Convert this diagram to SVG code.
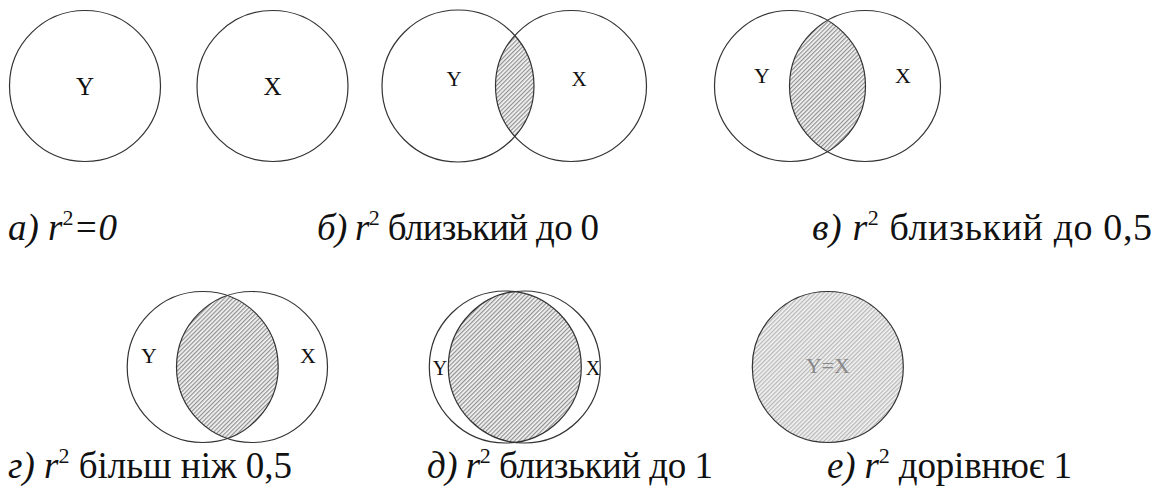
<svg xmlns="http://www.w3.org/2000/svg" width="1165" height="486" viewBox="0 0 1165 486">
<style>
.c{fill:none;stroke:#333;stroke-width:1.2}
.h{fill:url(#hatch);stroke:none}
.t{fill:#111;text-anchor:middle}
.lbl{fill:#111}
.it{font-style:italic}
</style>
<defs>
<pattern id="hatch" width="3" height="3" patternUnits="userSpaceOnUse" patternTransform="rotate(45)">
<rect width="3" height="3" fill="#f4f4f4"/>
<rect width="1.2" height="3" fill="#909090"/>
</pattern>
<pattern id="hatchL" width="3" height="3" patternUnits="userSpaceOnUse" patternTransform="rotate(45)">
<rect width="3" height="3" fill="#f4f4f4"/>
<rect width="1.3" height="3" fill="#b8b8b8"/>
</pattern>
<clipPath id="clipB"><circle cx="458" cy="86" r="76"/></clipPath>
<clipPath id="clipV"><circle cx="790" cy="86" r="75.5"/></clipPath>
<clipPath id="clipG"><circle cx="202.7" cy="367" r="75.5"/></clipPath>
<clipPath id="clipD"><circle cx="505.3" cy="367" r="76"/></clipPath>
</defs>

<g id="a">
<circle class="c" cx="85" cy="86" r="75.5"/>
<text class="t" x="85" y="95" font-family="Liberation Serif, serif" font-size="25">Y</text>
<circle class="c" cx="272.5" cy="86" r="75.5"/>
<text class="t" x="272.5" y="95" font-family="Liberation Serif, serif" font-size="25">X</text>
<text class="lbl" x="8" y="240" font-family="Liberation Serif, serif" font-size="37"><tspan class="it">а) r</tspan><tspan font-size="22" dy="-15">2</tspan><tspan class="it" dy="15">=0</tspan></text>
</g>

<g id="b">
<circle class="h" cx="571" cy="86" r="75.5" clip-path="url(#clipB)"/>
<circle class="c" cx="458" cy="86" r="76"/>
<circle class="c" cx="571" cy="86" r="75.5"/>
<text class="t" x="454" y="86" font-family="Liberation Serif, serif" font-size="21">Y</text>
<text class="t" x="579" y="86" font-family="Liberation Serif, serif" font-size="21">X</text>
<text class="lbl" x="317" y="240" font-family="Liberation Serif, serif" font-size="37" textLength="282" lengthAdjust="spacing"><tspan class="it">б) r</tspan><tspan font-size="22" dy="-15">2</tspan><tspan dy="15"> близький до 0</tspan></text>
</g>

<g id="v">
<circle class="h" cx="865" cy="86" r="75.5" clip-path="url(#clipV)"/>
<circle class="c" cx="790" cy="86" r="75.5"/>
<circle class="c" cx="865" cy="86" r="75.5"/>
<text class="t" x="762" y="83" font-family="Liberation Serif, serif" font-size="22">Y</text>
<text class="t" x="903" y="83" font-family="Liberation Serif, serif" font-size="22">X</text>
<text class="lbl" x="812" y="240" font-family="Liberation Serif, serif" font-size="38" textLength="340" lengthAdjust="spacing"><tspan class="it">в) r</tspan><tspan font-size="22" dy="-15">2</tspan><tspan dy="15"> близький до 0,5</tspan></text>
</g>

<g id="g">
<circle class="h" cx="252" cy="367" r="75.5" clip-path="url(#clipG)"/>
<circle class="c" cx="202.7" cy="367" r="75.5"/>
<circle class="c" cx="252" cy="367" r="75.5"/>
<text class="t" x="149" y="363" font-family="Liberation Serif, serif" font-size="22">Y</text>
<text class="t" x="308" y="363" font-family="Liberation Serif, serif" font-size="22">X</text>
<text class="lbl" x="8" y="478" font-family="Liberation Serif, serif" font-size="37" textLength="284" lengthAdjust="spacing"><tspan class="it">г) r</tspan><tspan font-size="22" dy="-15">2</tspan><tspan dy="15"> більш ніж 0,5</tspan></text>
</g>

<g id="d">
<circle class="h" cx="524.3" cy="367" r="76" clip-path="url(#clipD)"/>
<circle class="c" cx="505.3" cy="367" r="76"/>
<circle class="c" cx="524.3" cy="367" r="76"/>
<text class="t" x="440" y="375" font-family="Liberation Serif, serif" font-size="20">Y</text>
<text class="t" x="593" y="375" font-family="Liberation Serif, serif" font-size="20">X</text>
<text class="lbl" x="427" y="478" font-family="Liberation Serif, serif" font-size="37" textLength="286" lengthAdjust="spacing"><tspan class="it">д) r</tspan><tspan font-size="22" dy="-15">2</tspan><tspan dy="15"> близький до 1</tspan></text>
</g>

<g id="e">
<circle cx="827.8" cy="367" r="75.5" fill="url(#hatchL)" stroke="#333" stroke-width="1.2"/>
<text x="827.8" y="373" text-anchor="middle" font-family="Liberation Serif, serif" font-size="22" fill="#888">Y=X</text>
<text class="lbl" x="827" y="478" font-family="Liberation Serif, serif" font-size="37" textLength="245" lengthAdjust="spacing"><tspan class="it">е) r</tspan><tspan font-size="22" dy="-15">2</tspan><tspan dy="15"> дорівнює 1</tspan></text>
</g>
</svg>
